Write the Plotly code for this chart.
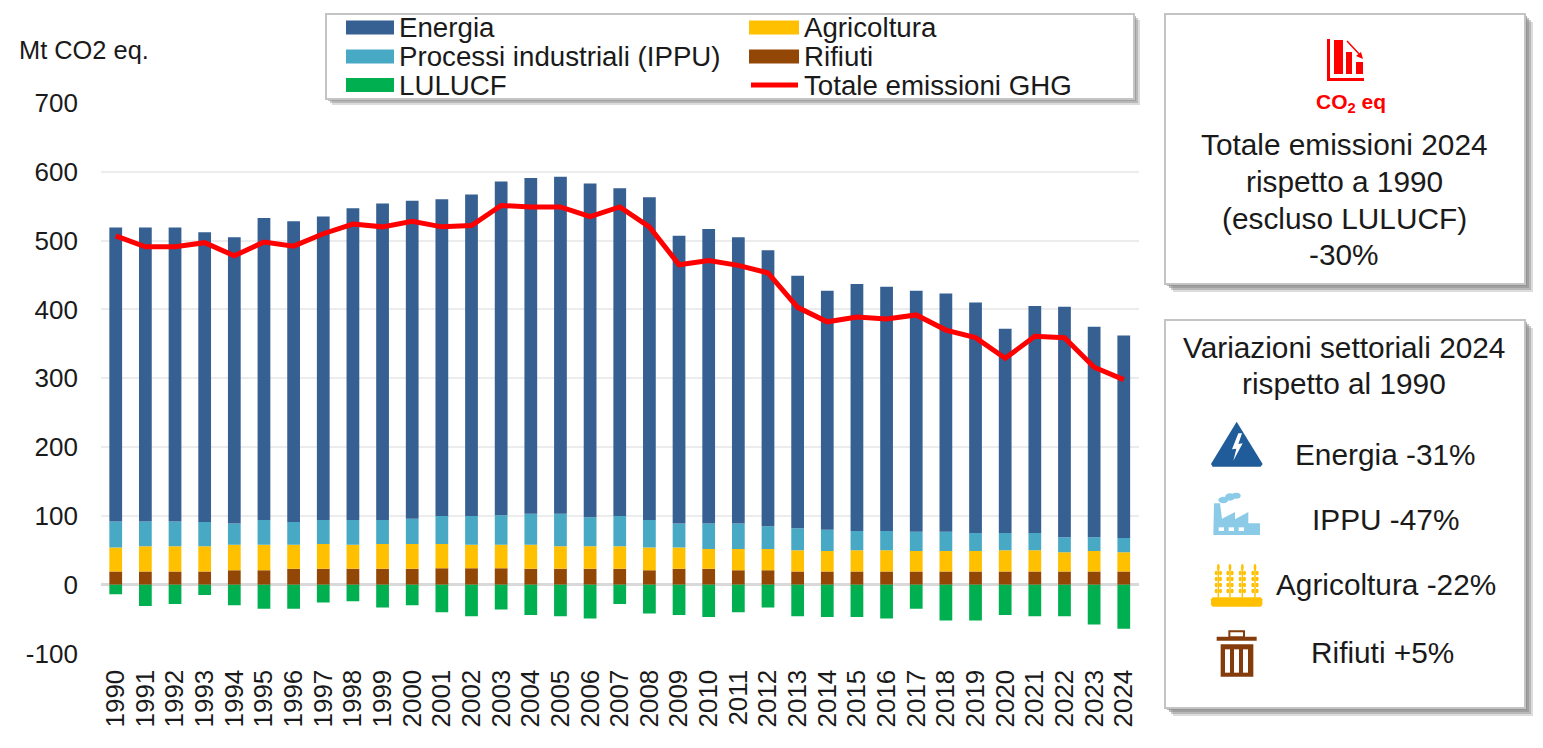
import plotly.graph_objects as go

anni = [str(a) for a in [1990, 1991, 1992, 1993, 1994, 1995, 1996, 1997, 1998, 1999, 2000, 2001,
                         2002, 2003, 2004, 2005, 2006, 2007, 2008, 2009, 2010, 2011, 2012, 2013,
                         2014, 2015, 2016, 2017, 2018, 2019, 2020, 2021, 2022, 2023, 2024]]

energia = [427, 427, 427, 421, 416, 439, 437, 441, 453, 460, 462, 460, 467, 485, 488, 490, 485, 476,
           469, 418, 428, 416, 401, 367, 347, 359, 355, 350, 346, 335, 297, 330, 335, 306, 294]
ippu = [38, 36, 36, 35, 31, 36, 33, 35, 36, 35, 37, 41, 42, 43, 45, 47, 42, 44,
        40, 35, 37, 37, 33, 32, 31, 28, 28, 28, 28, 26, 25, 25, 22, 20, 21]
agricoltura = [35, 37, 37, 37, 37, 37, 35, 36, 35, 36, 36, 35, 34, 34, 35, 33, 33, 33,
               33, 31, 29, 31, 31, 31, 30, 31, 31, 30, 30, 30, 31, 31, 28, 30, 28]
rifiuti = [19, 19, 19, 19, 21, 21, 23, 23, 23, 23, 23, 24, 24, 24, 23, 23, 23, 23,
           21, 23, 23, 21, 21, 19, 19, 19, 19, 19, 19, 19, 19, 19, 19, 19, 19]
lulucf = [-14, -31, -28, -15, -30, -35, -35, -26, -24, -33, -30, -40, -46, -36, -44, -46, -49, -28,
          -42, -44, -47, -40, -33, -46, -47, -47, -49, -35, -52, -52, -44, -46, -46, -58, -64]
totale = [507, 491, 491, 497, 478, 498, 492, 510, 524, 520, 528, 520, 522, 551, 549, 549, 535, 549,
          520, 465, 471, 464, 453, 403, 382, 389, 386, 392, 370, 359, 329, 361, 359, 316, 298]

C_ENERGIA = "#365f92"
C_IPPU = "#48a9c5"
C_AGRI = "#ffc000"
C_RIFIUTI = "#924707"
C_LULUCF = "#00b050"
C_TOT = "#ff0000"
FONT = "Liberation Sans"
TXT = "#1a1a1a"

W, H = 1543, 748


# everything outside the chart is placed in page pixels
def X(p):
    return p / W


def Y(p):
    return 1 - p / H


shapes = []
annots = []


def rect(x0, y0, x1, y1, fill, line=None, lw=0, op=1):
    shapes.append(dict(type="rect", xref="paper", yref="paper", x0=X(x0), x1=X(x1), y0=Y(y0), y1=Y(y1),
                       fillcolor=fill, opacity=op, line=dict(color=line or fill, width=lw)))


def oval(x0, y0, x1, y1, fill):
    shapes.append(dict(type="circle", xref="paper", yref="paper", x0=X(x0), x1=X(x1), y0=Y(y0), y1=Y(y1),
                       fillcolor=fill, line=dict(width=0)))


def poly(pts, fill):
    path = "M " + " L ".join(f"{X(a):.5f} {Y(b):.5f}" for a, b in pts) + " Z"
    shapes.append(dict(type="path", xref="paper", yref="paper", path=path, fillcolor=fill, line=dict(width=0)))


def seg(x0, y0, x1, y1, color, lw):
    shapes.append(dict(type="line", xref="paper", yref="paper", x0=X(x0), x1=X(x1), y0=Y(y0), y1=Y(y1),
                       line=dict(color=color, width=lw)))


def text(x, y, s, size, anchor="center", color=TXT):
    annots.append(dict(xref="paper", yref="paper", x=X(x), y=Y(y), text=s, showarrow=False, xanchor=anchor,
                       yanchor="middle", align="center", font=dict(family=FONT, size=size, color=color)))


def box(x0, y0, x1, y1, off=8):
    # soft shadow, then the white panel
    for i, op in zip([off, off - 2, off - 4, off - 6], [0.3, 0.45, 0.55, 0.65]):
        rect(x0 + i, y0 + i, x1 + i, y1 + i, "#8c8c8c", op=op)
    rect(x0, y0, x1, y1, "white", line="#c4c4c4", lw=2)


# legend
rect(320, 100, 1140, 108, "white")
box(326, 14, 1134, 99, off=6)
for yy, col, lab in [(27.5, C_ENERGIA, "Energia"), (56.5, C_IPPU, "Processi industriali (IPPU)"), (85, C_LULUCF, "LULUCF")]:
    rect(346, yy - 7, 394, yy + 7, col)
    text(397, yy, lab, 27.7, "left")
for yy, col, lab in [(27.5, C_AGRI, "Agricoltura"), (56.5, C_RIFIUTI, "Rifiuti")]:
    rect(749, yy - 7, 799, yy + 7, col)
    text(802, yy, lab, 27.7, "left")
seg(751, 85, 798, 85, C_TOT, 5)
text(802, 85, "Totale emissioni GHG", 27.7, "left")

text(17, 50, "Mt CO2 eq.", 25.4, "left")

# panel 1
box(1165, 14, 1525, 284)
rect(1327, 39, 1330, 81, C_TOT)
rect(1327, 78, 1364, 81, C_TOT)
rect(1334, 40, 1343, 74, C_TOT)
rect(1346, 52, 1352, 74, C_TOT)
rect(1356, 62, 1363, 74, C_TOT)
seg(1347, 41, 1361, 56, C_TOT, 1.5)
poly([(1363, 59), (1356, 56), (1361, 52)], C_TOT)
text(1351, 103, "<b>CO<sub>2</sub> eq</b>", 21, color=C_TOT)
text(1344, 144, "Totale emissioni 2024", 29.8)
text(1344, 182, "rispetto a 1990", 29.8)
text(1344, 219, "(escluso LULUCF)", 29.8)
text(1344, 255, "-30%", 29.8)

# panel 2
box(1165, 320, 1525, 708)
text(1344, 347, "Variazioni settoriali 2024", 29.8)
text(1344, 383, "rispetto al 1990", 29.8)
text(1385.5, 454, "Energia -31%", 29.8)
text(1385.5, 519, "IPPU -47%", 29.8)
text(1385.5, 584, "Agricoltura -22%", 29.8)
text(1382.5, 652, "Rifiuti +5%", 29.8)


def zp(a, b):
    # from zoom coordinates of the side panel to the page
    return (1170 + a / 3, 310 + b / 3)


# energy icon
poly([zp(*p) for p in [(200, 335), (278, 462), (272, 470), (128, 470), (123, 462)]], "#1f5c99")
poly([zp(*p) for p in [(205, 370), (186, 418), (199, 416), (190, 452), (218, 400), (205, 402), (216, 370)]], "white")

# factory icon
C_ICON = "#8ccbe8"
poly([zp(*p) for p in [(130, 675), (132, 580), (150, 580), (156, 626), (195, 606), (195, 628), (235, 606),
                       (235, 640), (270, 640), (270, 675)]], C_ICON)
oval(*zp(145, 560), *zp(175, 580), C_ICON)
oval(*zp(165, 550), *zp(195, 572), C_ICON)
oval(*zp(185, 548), *zp(212, 566), C_ICON)
for a in [146, 176, 206]:
    rect(*zp(a, 652), *zp(a + 16, 663), "white")

# wheat icon
poly([zp(*p) for p in [(128, 862), (272, 862), (277, 868), (277, 884), (272, 890), (128, 890), (123, 884), (123, 868)]], C_AGRI)
for a in [145, 180, 217, 255]:
    seg(*zp(a, 775), *zp(a, 862), C_AGRI, 1.5)
    oval(*zp(a - 4, 762), *zp(a + 4, 782), C_AGRI)
    for b in [782, 800, 818, 836]:
        oval(*zp(a - 11, b), *zp(a - 2, b + 14), C_AGRI)
        oval(*zp(a + 2, b), *zp(a + 11, b + 14), C_AGRI)

# bin icon
C_BIN = "#843c0c"
rect(*zp(140, 980), *zp(260, 992), C_BIN)
rect(*zp(178, 964), *zp(222, 982), "white", line=C_BIN, lw=2)
rect(*zp(152, 1003), *zp(250, 1100), C_BIN)
for a in [165, 192, 219]:
    rect(*zp(a, 1018), *zp(a + 15, 1088), "white")

fig = go.Figure()
for nome, vals, col in [("Rifiuti", rifiuti, C_RIFIUTI), ("Agricoltura", agricoltura, C_AGRI),
                        ("Processi industriali (IPPU)", ippu, C_IPPU), ("Energia", energia, C_ENERGIA),
                        ("LULUCF", lulucf, C_LULUCF)]:
    fig.add_trace(go.Bar(x=anni, y=vals, name=nome, marker=dict(color=col, line=dict(width=0)), width=0.43))
fig.add_trace(go.Scatter(x=anni, y=totale, name="Totale emissioni GHG", mode="lines",
                         line=dict(color=C_TOT, width=5)))

fig.update_layout(
    width=W, height=H, margin=dict(l=0, r=0, t=0, b=0, autoexpand=False), barmode="relative", showlegend=False,
    plot_bgcolor="white", paper_bgcolor="white", font=dict(family=FONT, color=TXT),
    shapes=shapes, annotations=annots,
    xaxis=dict(domain=[X(100.9), X(1138.6)], range=[-0.5, 34.5], type="category", tickangle=-90, showgrid=False,
               showline=False, ticks="", tickmode="array", tickvals=anni, ticktext=anni, ticklabelstandoff=10,
               tickfont=dict(size=26), anchor="y"),
    yaxis=dict(domain=[Y(653.5), Y(103)], range=[-100, 700], tickvals=[-100, 0, 100, 200, 300, 400, 500, 600, 700],
               ticktext=["-100", "0", "100", "200", "300", "400", "500", "600", "700"],
               gridcolor="#ececec", gridwidth=1.5, zeroline=True, zerolinecolor="#d9d9d9", zerolinewidth=2.5,
               ticklabelstandoff=22, tickfont=dict(size=26), anchor="x"),
)

# the page's default body margin would shift the whole picture
fig.write_html("out.html", post_script="document.body.style.margin='0';", config=dict(displayModeBar=False))
